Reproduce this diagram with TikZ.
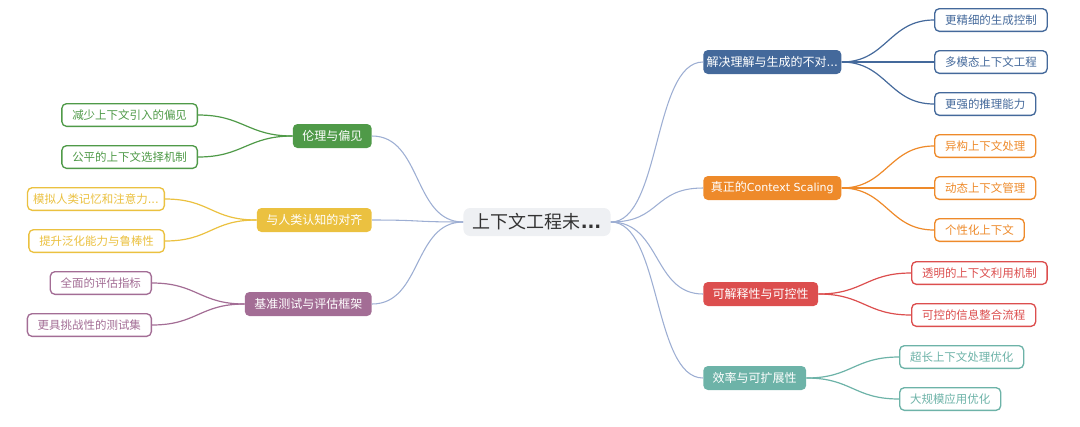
\documentclass[tikz,border=0pt]{standalone}
\usepackage{fontspec}
\setmainfont{Noto Sans CJK SC}
\newfontfamily\latinfont{DejaVu Sans}
\usepackage{tikz}
\usetikzlibrary{calc}
\definecolor{rootgray}{HTML}{EEF0F3}
\definecolor{roottext}{HTML}{333333}
\definecolor{linkblue}{HTML}{9DAED3}
\definecolor{mapgreen}{HTML}{4F9A48}
\definecolor{mapyellow}{HTML}{EBC140}
\definecolor{mappurple}{HTML}{A36D95}
\definecolor{mapblue}{HTML}{44699B}
\definecolor{maporange}{HTML}{EE8A2A}
\definecolor{mapred}{HTML}{DC4E4E}
\definecolor{mapteal}{HTML}{6DB3A8}
% abgeschnittener Text: drei Punkte
\newcommand{\cutdots}{{\latinfont ...}}

\begin{document}
\begin{tikzpicture}[x=0.75pt,y=-0.75pt,
  rootbox/.style={fill=rootgray,rounded corners=5pt,text=roottext,
    font=\fontsize{13.5}{15}\selectfont,minimum height=21pt,inner xsep=7pt},
  branchbox/.style={fill=#1,rounded corners=3.5pt,text=white,
    font=\fontsize{9}{11}\selectfont,minimum height=18pt,inner xsep=7.1pt},
  cutbox/.style={inner xsep=2.5pt,minimum width=103.5pt},
  leafbox/.style={draw=#1,line width=1pt,fill=white,rounded corners=3.5pt,text=#1,
    font=\fontsize{8.6}{11}\selectfont,minimum height=17pt,inner xsep=7.8pt},
  cutleaf/.style={inner xsep=4.2pt},
  rootlink/.style={draw=linkblue,line width=0.8pt},
  leaflink/.style={draw=#1,line width=0.9pt}]
  \useasboundingbox (0,0) rectangle (1080,426);
  % Wurzel
  \node[rootbox] (root) at (537,222) {上下文工程未{\latinfont\bfseries ...}};
  % linke Zweige
  \node[branchbox=mapgreen,anchor=east] (ethik) at (372,136) {伦理与偏见};
  \node[branchbox=mapyellow,anchor=east] (kogn) at (372,220) {与人类认知的对齐};
  \node[branchbox=mappurple,anchor=east] (bench) at (372,304) {基准测试与评估框架};
  % rechte Zweige
  \node[branchbox=mapblue,cutbox,anchor=west] (asym) at (703,62) {解决理解与生成的不对\cutdots};
  \node[branchbox=maporange,cutbox,anchor=west] (scal) at (703,188)
    {真正的{\latinfont\fontsize{8.3}{11}\selectfont Context Scaling}};
  \node[branchbox=mapred,anchor=west] (erkl) at (703,294) {可解释性与可控性};
  \node[branchbox=mapteal,anchor=west] (effi) at (703,378) {效率与可扩展性};
  % Blaetter links
  \node[leafbox=mapgreen,anchor=east] (ethikA) at (198,115) {减少上下文引入的偏见};
  \node[leafbox=mapgreen,anchor=east] (ethikB) at (198,157) {公平的上下文选择机制};
  \node[leafbox=mapyellow,cutleaf,anchor=east] (kognA) at (165,199) {模拟人类记忆和注意力\cutdots};
  \node[leafbox=mapyellow,anchor=east] (kognB) at (165,241) {提升泛化能力与鲁棒性};
  \node[leafbox=mappurple,anchor=east] (benchA) at (152,283) {全面的评估指标};
  \node[leafbox=mappurple,anchor=east] (benchB) at (152,325) {更具挑战性的测试集};
  % Blaetter rechts
  \node[leafbox=mapblue,anchor=west] (asymA) at (934,20) {更精细的生成控制};
  \node[leafbox=mapblue,anchor=west] (asymB) at (934,62) {多模态上下文工程};
  \node[leafbox=mapblue,anchor=west] (asymC) at (934,104) {更强的推理能力};
  \node[leafbox=maporange,anchor=west] (scalA) at (934,146) {异构上下文处理};
  \node[leafbox=maporange,anchor=west] (scalB) at (934,188) {动态上下文管理};
  \node[leafbox=maporange,anchor=west] (scalC) at (934,230) {个性化上下文};
  \node[leafbox=mapred,anchor=west] (erklA) at (911,273) {透明的上下文利用机制};
  \node[leafbox=mapred,anchor=west] (erklB) at (911,315) {可控的信息整合流程};
  \node[leafbox=mapteal,anchor=west] (effiA) at (899,357) {超长上下文处理优化};
  \node[leafbox=mapteal,anchor=west] (effiB) at (899,399) {大规模应用优化};
  % Verbindungen Wurzel -> Zweige
  \foreach \b in {asym,scal,erkl,effi}
    \path[rootlink] (root.east) .. controls +(50,0) and +(-50,0) .. (\b.west);
  \foreach \b in {ethik,kogn,bench}
    \path[rootlink] (root.west) .. controls +(-50,0) and +(50,0) .. (\b.east);
  % Verbindungen Zweige -> Blaetter
  \foreach \b/\l/\c in {asym/asymA/mapblue,asym/asymB/mapblue,asym/asymC/mapblue,
      scal/scalA/maporange,scal/scalB/maporange,scal/scalC/maporange,
      erkl/erklA/mapred,erkl/erklB/mapred,effi/effiA/mapteal,effi/effiB/mapteal}
    \path[leaflink=\c] (\b.east) .. controls +(45,0) and +(-45,0) .. (\l.west);
  \foreach \b/\l/\c in {ethik/ethikA/mapgreen,ethik/ethikB/mapgreen,
      kogn/kognA/mapyellow,kogn/kognB/mapyellow,
      bench/benchA/mappurple,bench/benchB/mappurple}
    \path[leaflink=\c] (\b.west) .. controls +(-45,0) and +(45,0) .. (\l.east);
\end{tikzpicture}
\end{document}
